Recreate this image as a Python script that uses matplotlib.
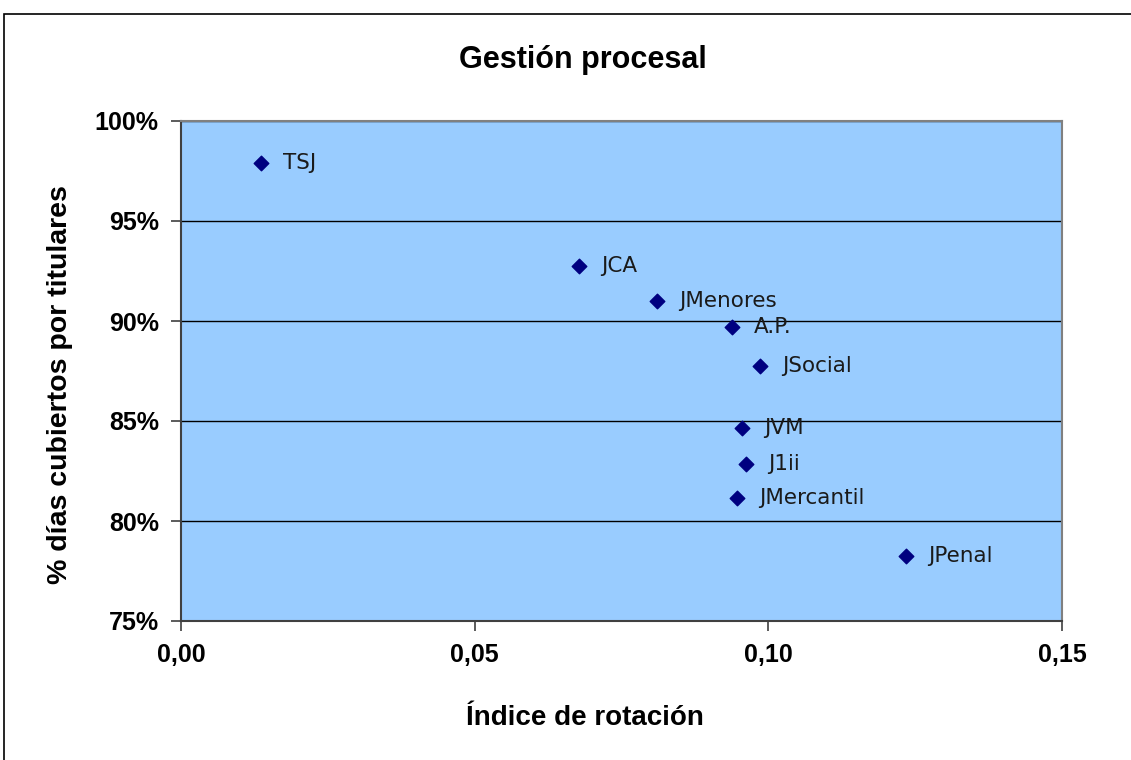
import matplotlib

matplotlib.use("Agg")
import matplotlib.pyplot as plt
from matplotlib.patches import Rectangle
from matplotlib.ticker import FuncFormatter, MultipleLocator

# datos
labels = ["TSJ", "JCA", "JMenores", "A.P.", "JSocial", "JVM", "J1ii", "JMercantil", "JPenal"]
rotacion = [0.0136, 0.0678, 0.0810, 0.0938, 0.0986, 0.0955, 0.0962, 0.0946, 0.1234]
cubiertos = [0.9789, 0.9277, 0.9100, 0.8968, 0.8777, 0.8463, 0.8285, 0.8113, 0.7825]

W, H = 1131, 760
fig = plt.figure(figsize=(W / 100, H / 100), dpi=100)
fig.patch.set_facecolor("white")

# marco del gráfico
fig.patches.append(
    Rectangle((4 / W, -0.05), 1.2, (H - 14) / H + 0.05, transform=fig.transFigure,
              fill=False, edgecolor="black", lw=1.2)
)

ax = fig.add_axes([181 / W, (H - 621) / H, (1062 - 181) / W, 500 / H])
ax.set_facecolor("#99CCFF")
ax.scatter(rotacion, cubiertos, marker="D", s=55, color="#000080", zorder=3)
for x, y, t in zip(rotacion, cubiertos, labels):
    ax.annotate(t, (x, y), xytext=(16, 0), textcoords="offset points", va="center",
                ha="left", fontsize=15.5, family="DejaVu Sans", color="#1a1a1a")

ax.set_xlim(0, 0.15)
ax.set_ylim(0.75, 1.0)
ax.xaxis.set_major_locator(MultipleLocator(0.05))
ax.yaxis.set_major_locator(MultipleLocator(0.05))
ax.xaxis.set_major_formatter(FuncFormatter(lambda v, p: f"{v:.2f}".replace(".", ",")))
ax.yaxis.set_major_formatter(FuncFormatter(lambda v, p: f"{v * 100:.0f}%"))
ax.grid(True, axis="y", color="black", lw=1)
ax.set_axisbelow(True)
for s in ax.spines.values():
    s.set_color("#808080")
    s.set_linewidth(1.5)
ax.spines["left"].set_color("#404040")
ax.spines["bottom"].set_color("#404040")
ax.tick_params(direction="out", length=7, width=1.2, color="#404040", pad=9)
for lab in ax.get_xticklabels() + ax.get_yticklabels():
    lab.set_family("Liberation Sans")
    lab.set_fontweight("bold")
    lab.set_fontsize(18)

txt = dict(family="Liberation Sans", fontweight="bold", ha="center", va="center")
fig.text(585 / W, (H - 718) / H, "Índice de rotación", fontsize=20, **txt)
fig.text(60 / W, (H - 385) / H, "% días cubiertos por titulares", fontsize=20.5,
         rotation=90, **txt)
fig.text(583 / W, (H - 60) / H, "Gestión procesal", fontsize=22, **txt)

fig.savefig("out.png", dpi=100)
